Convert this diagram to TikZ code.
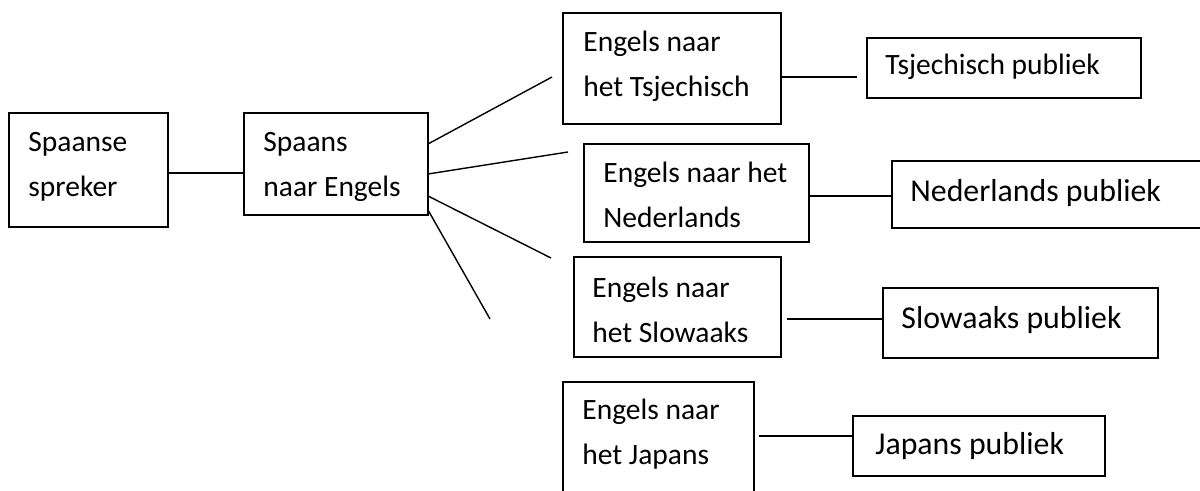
\documentclass[tikz,border=0pt]{standalone}
\usepackage{fontspec}
\setmainfont{Carlito}
\begin{document}
\begin{tikzpicture}[x=0.5pt,y=-0.5pt,
  box/.style={draw, line width=0.7pt, inner sep=0pt, outer sep=0pt, anchor=north west},
  txt/.style={anchor=base west, inner sep=0pt, align=left, font=\fontsize{14.75}{22.5}\selectfont},
  bigtxt/.style={anchor=base west, inner sep=0pt, font=\fontsize{15.9}{20}\selectfont},
  ln/.style={line width=0.7pt}]
\useasboundingbox (0,0) rectangle (1200,491);
\clip (0,0) rectangle (1200,491);
% boxes
\node[box, minimum width=79.5pt, minimum height=57pt] (A) at (9,113) {};
\node[box, minimum width=92pt, minimum height=51pt] (B) at (244,113) {};
\node[box, minimum width=109pt, minimum height=55.5pt] (C1) at (563,13) {};
\node[box, minimum width=137pt, minimum height=30pt] (D1) at (867,38) {};
\node[box, minimum width=112.5pt, minimum height=49pt] (C2) at (584,144) {};
\node[box, minimum width=159pt, minimum height=33.5pt] (D2) at (892,161) {};
\node[box, minimum width=103.5pt, minimum height=50pt] (C3) at (574,257) {};
\node[box, minimum width=137.5pt, minimum height=35pt] (D3) at (883,288) {};
\node[box, minimum width=95.5pt, minimum height=59pt] (C4) at (563,382) {};
\node[box, minimum width=126pt, minimum height=30pt] (D4) at (853,416) {};
% texts (anchored at the baseline of the last line)
\node[txt] (tA) at (28,197) {Spaanse\\spreker};
\node[txt] (tB) at (263,197) {Spaans\\naar Engels};
\node[txt] (tC1) at (583,97) {Engels naar\\het Tsjechisch};
\node[bigtxt, font=\fontsize{14.75}{20}\selectfont] (tD1) at (885,75) {Tsjechisch publiek};
\node[txt] (tC2) at (603,228) {Engels naar het\\Nederlands};
\node[bigtxt] (tD2) at (910,202) {Nederlands publiek};
\node[txt] (tC3) at (592,343) {Engels naar\\het Slowaaks};
\node[bigtxt] (tD3) at (901,329) {Slowaaks publiek};
\node[txt] (tC4) at (582,465) {Engels naar\\het Japans};
\node[bigtxt] (tD4) at (875,455) {Japans publiek};
% helper coordinates
\coordinate (yAB) at (0,173);
\coordinate (y1) at (0,144);
\coordinate (y2) at (0,174);
\coordinate (y3) at (0,196);
\coordinate (y4) at (0,210);
\coordinate (f1) at (552,77);
\coordinate (f2) at (568,152);
\coordinate (f3) at (551,258);
\coordinate (f4) at (490,319);
\coordinate (e1) at (857,77);
\coordinate (yC1) at (0,77);
\coordinate (yC2) at (0,196);
\coordinate (s3) at (787,319);
\coordinate (s4) at (759,436);
% connectors
\draw[ln] (A.east |- yAB) -- (B.west |- yAB);
\draw[ln] (B.east |- y1) -- (f1);
\draw[ln] (B.east |- y2) -- (f2);
\draw[ln] (B.east |- y3) -- (f3);
\draw[ln] (B.east |- y4) -- (f4);
\draw[ln] (C1.east |- yC1) -- (e1);
\draw[ln] (C2.east |- yC2) -- (D2.west |- yC2);
\draw[ln] (s3) -- (D3.west |- s3);
\draw[ln] (s4) -- (D4.west |- s4);
\end{tikzpicture}
\end{document}
